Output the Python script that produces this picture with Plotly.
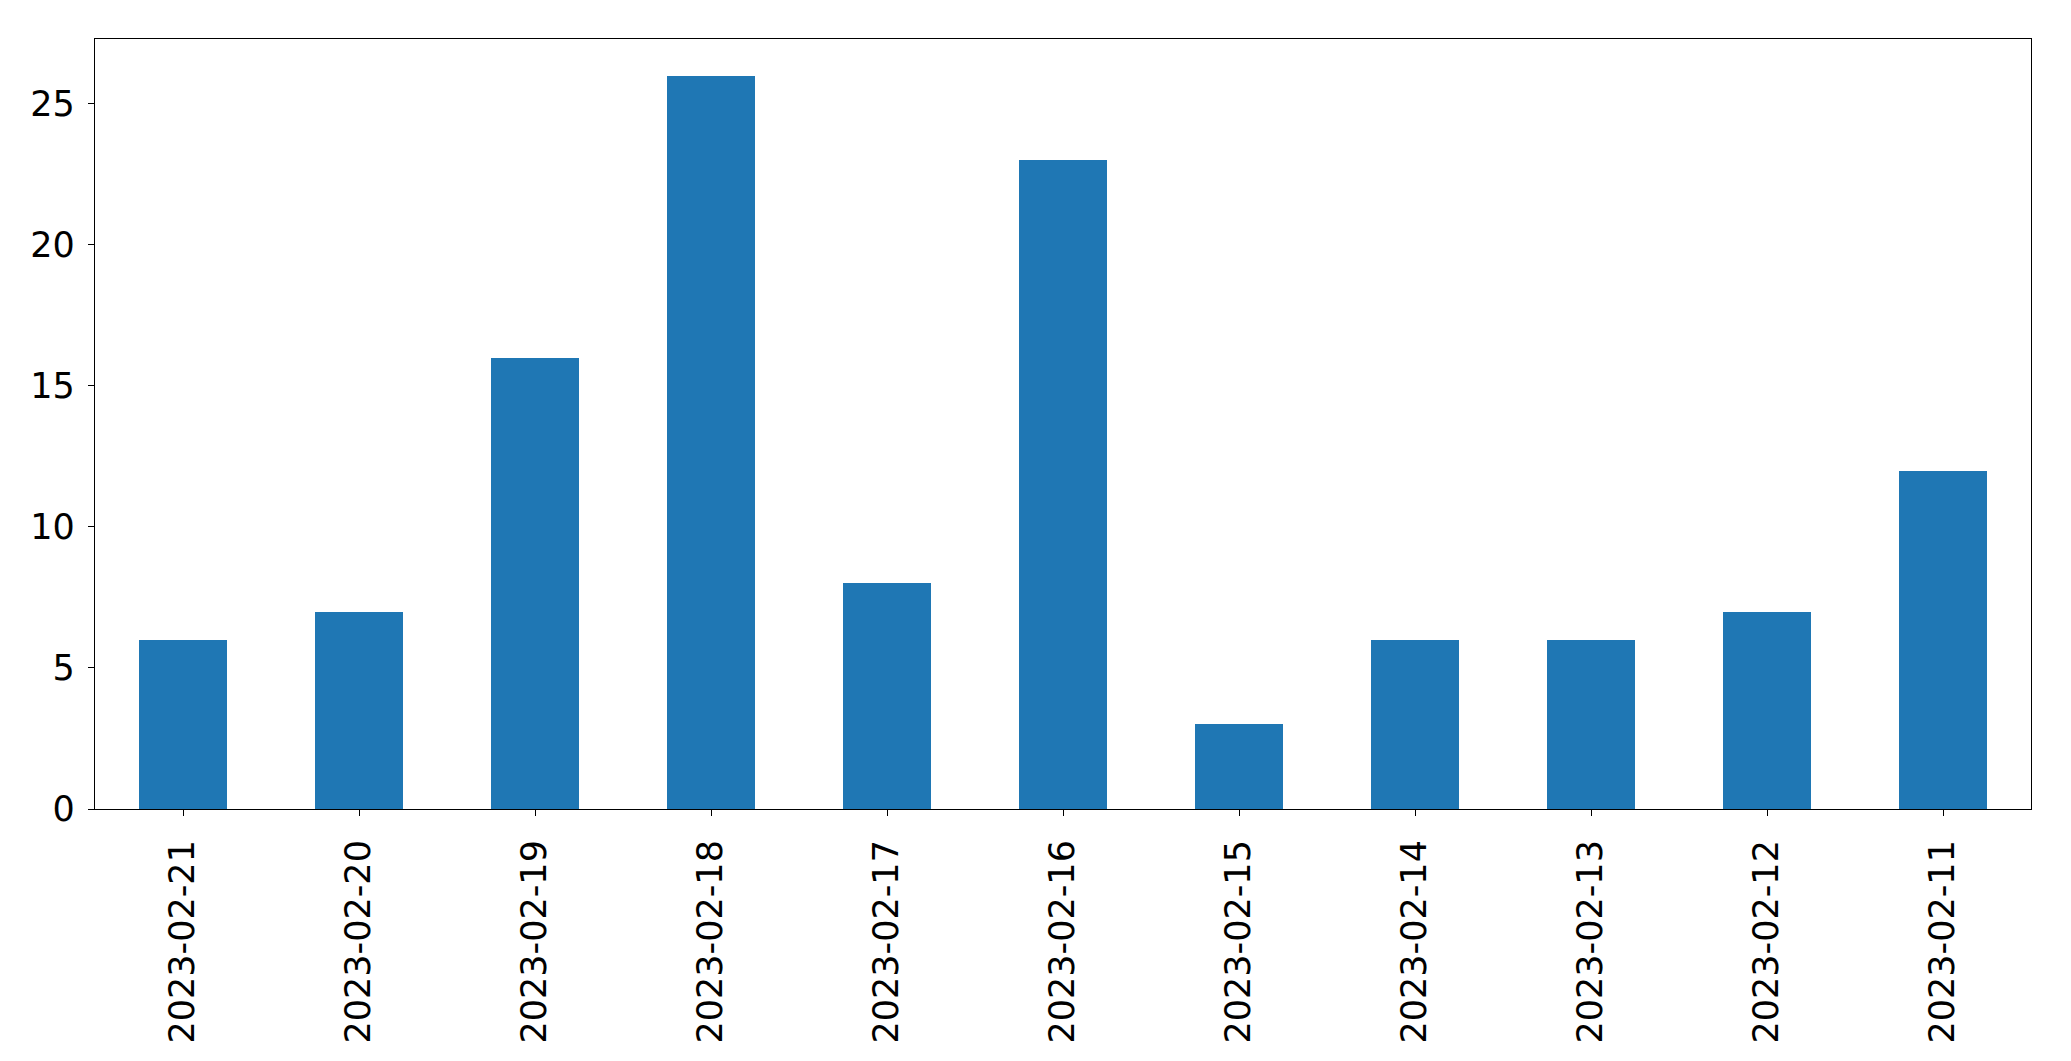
import plotly.graph_objects as go

dates = ["2023-02-21", "2023-02-20", "2023-02-19", "2023-02-18", "2023-02-17",
         "2023-02-16", "2023-02-15", "2023-02-14", "2023-02-13", "2023-02-12", "2023-02-11"]
counts = [6, 7, 16, 26, 8, 23, 3, 6, 6, 7, 12]
y_ticks = [0, 5, 10, 15, 20, 25]

fig = go.Figure(go.Bar(x=dates, y=counts, width=0.5, marker=dict(color="#1f77b4", line=dict(width=0))))

font = dict(family="DejaVu Sans", size=35, color="black")
fig.update_layout(
    width=2071, height=1061,
    margin=dict(l=87, r=48, t=31, b=260, autoexpand=False),
    plot_bgcolor="white", paper_bgcolor="white",
    showlegend=False, bargap=0,
    font=font,
)
fig.update_xaxes(
    type="category", range=[-0.5, len(dates) - 0.5],
    showline=True, linecolor="black", linewidth=1.2, mirror=True,
    ticks="outside", ticklen=6, tickwidth=1.2, tickcolor="black",
    tickangle=-90, tickfont=font, showgrid=False, automargin=False,
    ticklabelstandoff=10,
)
fig.update_yaxes(
    range=[0, 27.3], tickvals=y_ticks,
    showline=True, linecolor="black", linewidth=1.2, mirror=True,
    ticks="outside", ticklen=6, tickwidth=1.2, tickcolor="black",
    tickfont=font, showgrid=False, zeroline=False, automargin=False,
    ticklabelstandoff=6,
)
fig.write_html("out.html")
